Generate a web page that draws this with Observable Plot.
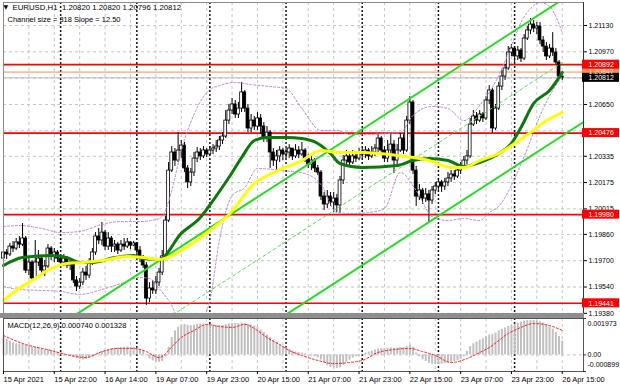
<!DOCTYPE html>
<html><head><meta charset="utf-8">
<script src="https://cdn.jsdelivr.net/npm/d3@7"></script>
<script src="https://cdn.jsdelivr.net/npm/@observablehq/plot@0.6"></script>
<style>
html,body{margin:0;padding:0;background:#fff;}
#wrap{position:relative;width:620px;height:388px;overflow:hidden;background:#fff;}
#main,#macd{position:absolute;left:0;}
#main{top:0;}
#macd{top:315px;}
#sep{position:absolute;left:0;top:313px;width:584px;height:5px;background:#8e8e8e;}
</style></head><body>
<div id="wrap"><div id="main"></div><div id="sep"></div><div id="macd"></div></div>
<script>
// ---------- DATA (EURUSD H1, bar index 0 = 15 Apr 2021 06:00) ----------
const firstOpen = 1.19713;
const close = [
1.19750,1.19738,1.19786,1.19774,1.19811,1.19798,1.19835,1.19640,1.19689,1.19592,
1.19689,1.19713,1.19640,1.19665,1.19774,1.19726,1.19750,1.19713,1.19689,1.19713,
1.19671,1.19689,1.19580,1.19543,1.19567,1.19628,1.19610,1.19689,1.19750,1.19847,
1.19823,1.19871,1.19786,1.19835,1.19786,1.19798,1.19762,1.19798,1.19786,1.19811,
1.19792,1.19805,1.19762,1.19713,1.19671,1.19470,1.19531,1.19519,1.19567,1.19628,
1.19726,1.19944,1.20248,1.20358,1.20309,1.20370,1.20400,1.20261,1.20176,1.20236,
1.20321,1.20358,1.20334,1.20370,1.20346,1.20370,1.20382,1.20394,1.20431,1.20455,
1.20552,1.20613,1.20650,1.20589,1.20625,1.20723,1.20625,1.20504,1.20552,1.20516,
1.20565,1.20516,1.20443,1.20479,1.20358,1.20309,1.20334,1.20370,1.20346,1.20358,
1.20382,1.20334,1.20370,1.20346,1.20370,1.20321,1.20285,1.20309,1.20261,1.20236,
1.20090,1.20042,1.20090,1.20054,1.20078,1.20036,1.20188,1.20309,1.20334,1.20297,
1.20334,1.20321,1.20358,1.20346,1.20370,1.20334,1.20358,1.20382,1.20443,1.20370,
1.20321,1.20370,1.20406,1.20309,1.20370,1.20443,1.20370,1.20552,1.20662,1.20248,
1.20090,1.20127,1.20078,1.20103,1.20066,1.20127,1.20151,1.20176,1.20151,1.20176,
1.20200,1.20224,1.20212,1.20248,1.20273,1.20309,1.20334,1.20528,1.20577,1.20552,
1.20589,1.20565,1.20674,1.20735,1.20504,1.20625,1.20759,1.20820,1.20869,1.20966,
1.20990,1.20942,1.20978,1.20929,1.21051,1.21100,1.21136,1.21112,1.21124,1.21039,
1.21002,1.20942,1.20990,1.20966,1.20905,1.20820,1.20812];
const high = [
1.19774,1.19768,1.19805,1.19817,1.19835,1.19847,1.19926,1.19847,1.19719,1.19701,
1.19823,1.19762,1.19732,1.19701,1.19798,1.19786,1.19774,1.19762,1.19732,1.19738,
1.19726,1.19713,1.19701,1.19604,1.19592,1.19653,1.19665,1.19713,1.19774,1.19871,
1.19896,1.19932,1.19884,1.19871,1.19847,1.19823,1.19811,1.19823,1.19835,1.19835,
1.19817,1.19817,1.19811,1.19786,1.19732,1.19689,1.19567,1.19580,1.19604,1.19653,
1.19762,1.19969,1.20297,1.20394,1.20382,1.20479,1.20431,1.20419,1.20279,1.20261,
1.20358,1.20388,1.20382,1.20394,1.20382,1.20394,1.20406,1.20431,1.20455,1.20479,
1.20613,1.20650,1.20686,1.20674,1.20662,1.20784,1.20735,1.20650,1.20589,1.20577,
1.20601,1.20589,1.20540,1.20516,1.20492,1.20382,1.20370,1.20394,1.20382,1.20382,
1.20406,1.20382,1.20406,1.20394,1.20419,1.20382,1.20346,1.20340,1.20321,1.20279,
1.20248,1.20115,1.20127,1.20115,1.20115,1.20103,1.20212,1.20340,1.20370,1.20358,
1.20370,1.20358,1.20382,1.20382,1.20394,1.20382,1.20394,1.20406,1.20467,1.20455,
1.20394,1.20431,1.20467,1.20431,1.20406,1.20479,1.20467,1.20577,1.20698,1.20674,
1.20273,1.20163,1.20139,1.20139,1.20127,1.20151,1.20176,1.20200,1.20188,1.20200,
1.20236,1.20248,1.20248,1.20273,1.20297,1.20334,1.20370,1.20565,1.20613,1.20601,
1.20613,1.20601,1.20698,1.20765,1.20747,1.20650,1.20784,1.20856,1.20893,1.21002,
1.21014,1.20990,1.21002,1.20990,1.21075,1.21124,1.21173,1.21160,1.21148,1.21148,
1.21063,1.21027,1.21014,1.21087,1.20990,1.20917,1.20820];
const low = [
1.19689,1.19707,1.19726,1.19750,1.19762,1.19774,1.19786,1.19622,1.19610,1.19567,
1.19580,1.19665,1.19616,1.19604,1.19653,1.19701,1.19689,1.19689,1.19665,1.19665,
1.19653,1.19640,1.19561,1.19513,1.19525,1.19549,1.19580,1.19592,1.19671,1.19732,
1.19798,1.19792,1.19762,1.19762,1.19750,1.19750,1.19738,1.19750,1.19762,1.19774,
1.19768,1.19786,1.19738,1.19689,1.19653,1.19428,1.19446,1.19495,1.19495,1.19543,
1.19610,1.19713,1.19932,1.20236,1.20273,1.20297,1.20321,1.20236,1.20139,1.20151,
1.20212,1.20297,1.20309,1.20321,1.20327,1.20340,1.20346,1.20358,1.20370,1.20406,
1.20443,1.20528,1.20589,1.20565,1.20565,1.20601,1.20601,1.20479,1.20479,1.20492,
1.20492,1.20467,1.20419,1.20419,1.20261,1.20273,1.20236,1.20297,1.20309,1.20321,
1.20321,1.20309,1.20321,1.20321,1.20334,1.20297,1.20261,1.20248,1.20236,1.20218,
1.20066,1.20005,1.20017,1.20030,1.19993,1.19993,1.19987,1.20163,1.20279,1.20273,
1.20285,1.20297,1.20309,1.20321,1.20321,1.20309,1.20321,1.20334,1.20358,1.20346,
1.20297,1.20297,1.20346,1.20230,1.20285,1.20358,1.20346,1.20358,1.20528,1.20224,
1.20030,1.20066,1.20042,1.20054,1.19932,1.20042,1.20103,1.20127,1.20115,1.20127,
1.20151,1.20176,1.20188,1.20200,1.20224,1.20261,1.20285,1.20321,1.20516,1.20528,
1.20540,1.20540,1.20552,1.20650,1.20473,1.20492,1.20613,1.20735,1.20796,1.20856,
1.20942,1.20905,1.20917,1.20905,1.20917,1.21039,1.21075,1.21087,1.21075,1.21014,
1.20966,1.20917,1.20929,1.20942,1.20893,1.20808,1.20796];

// moving averages (bar index, price)
const maFastBars = [0,6,15,20,24,28,35,41,44,49,56,62,66,71,75,79,83,89,94,99,103,106,113,124,129,134,140,145,149,156,160,163,167,172,176];
const maFast = [1.19671,1.19719,1.19732,1.19719,1.19689,1.19689,1.19719,1.19732,1.19713,1.19707,1.19866,1.19963,1.20066,1.20206,1.20327,1.20431,1.20449,1.20449,1.20443,1.20413,1.20352,1.20291,1.20267,1.20279,1.20309,1.20321,1.20309,1.20273,1.20291,1.20352,1.20413,1.20510,1.20656,1.20735,1.20844];
const maSlowBars = [0,4,9,15,20,25,31,39,44,49,57,65,71,79,85,94,100,106,113,124,134,141,145,150,156,161,166,171,176];
const maSlow = [1.19458,1.19519,1.19580,1.19653,1.19683,1.19689,1.19701,1.19726,1.19719,1.19707,1.19774,1.19884,1.19981,1.20169,1.20236,1.20309,1.20370,1.20358,1.20358,1.20340,1.20309,1.20267,1.20267,1.20309,1.20352,1.20413,1.20479,1.20552,1.20601];

// Bollinger envelope
const bbUpBars = [0,5,12,18,24,31,37,43,48,50,53,56,60,65,68,73,78,84,89,94,100,105,109,115,120,125,129,135,140,145,150,156,160,163,166,169,172,174,176];
const bbUp = [1.19908,1.19914,1.19896,1.19871,1.19878,1.19920,1.19938,1.19938,1.19950,1.19969,1.20127,1.20370,1.20589,1.20741,1.20765,1.20784,1.20771,1.20759,1.20747,1.20625,1.20492,1.20492,1.20467,1.20467,1.20473,1.20479,1.20583,1.20638,1.20625,1.20552,1.20644,1.20826,1.21008,1.21148,1.21233,1.21270,1.21246,1.21185,1.21087];
const bbLowBars = [0,5,12,18,24,31,37,43,46,49,53,56,60,65,68,72,76,80,88,95,100,105,110,115,120,125,130,135,140,145,150,153,156,160,165,170,173,176];
const bbLow = [1.19543,1.19525,1.19519,1.19513,1.19495,1.19525,1.19561,1.19598,1.19592,1.19531,1.19428,1.19306,1.19276,1.19458,1.19823,1.20096,1.20145,1.20261,1.20248,1.20230,1.20163,1.19993,1.19987,1.19993,1.20017,1.20236,1.20127,1.19969,1.19944,1.19957,1.19944,1.19993,1.20030,1.20157,1.20382,1.20625,1.20735,1.20820];

// equidistant channel (slope 12.5 points per bar)
const chanUpperBars = [20, 183], chanUpper = [1.19337, 1.21374];
const chanLowerBars = [80, 183], chanLower = [1.19260, 1.20547];
const chanMidBars = [50, 176], chanMid = [1.19329, 1.20904];

// horizontal levels
const redLevels = [1.20892, 1.20476, 1.19980, 1.19441];
const orangeLevel = [1.20847];
const bidLevel = [1.20812];

// axes
const priceGrid = [1.21130,1.20970,1.20810,1.20650,1.20490,1.20335,1.20175,1.20015,1.19860,1.19700,1.19540,1.19380];
const priceTickLabels = [1.21130,1.20970,1.20650,1.20335,1.20175,1.20015,1.19860,1.19700,1.19540,1.19380];
const labelBars = [0,16,32,48,64,80,96,112,128,144,160,176];
const xLabels = ["15 Apr 2021","15 Apr 22:00","16 Apr 14:00","19 Apr 07:00","19 Apr 23:00","20 Apr 15:00","21 Apr 07:00","21 Apr 23:00","22 Apr 15:00","23 Apr 07:00","23 Apr 23:00","26 Apr 15:00"];
const daySeparators = [18, 42, 65, 89, 113, 137, 161];

// MACD(12,26,9)
const macdMain = [
0.00094,0.00085,0.00075,0.00065,0.0006,0.00058,0.00062,0.00052,0.00048,0.00042,
0.0004,0.00036,0.0003,0.00026,0.00026,0.00022,0.00016,0.00012,0.0001,0.00006,
0.00002,-0.00004,-0.00012,-0.0002,-0.00026,-0.00028,-0.00024,-0.00018,-0.0001,0.00002,
0.0001,0.00018,0.00024,0.00028,0.00032,0.00036,0.00038,0.0004,0.00042,0.00042,
0.0004,0.0004,0.00036,0.0003,0.0002,-0.00005,-0.00022,-0.00032,-0.00038,-0.0004,
-0.00036,-0.0001,0.0004,0.00094,0.0013,0.0015,0.0016,0.00165,0.0016,0.00158,
0.00162,0.00166,0.00168,0.00168,0.00166,0.00164,0.00162,0.0016,0.0016,0.0016,
0.00164,0.00168,0.0017,0.0017,0.0017,0.00172,0.0017,0.00166,0.00162,0.00156,
0.00148,0.00136,0.00122,0.00108,0.00094,0.0008,0.00068,0.00056,0.00046,0.00038,
0.0003,0.00022,0.00016,0.00012,0.0001,0.00006,0.0,-0.00004,-0.0001,-0.00016,
-0.00028,-0.00046,-0.0006,-0.00068,-0.00072,-0.00074,-0.0007,-0.00056,-0.0004,-0.00028,
-0.00018,-0.0001,-0.00002,0.00004,0.0001,0.00016,0.0002,0.00026,0.00032,0.00034,
0.00034,0.00036,0.00038,0.00036,0.00036,0.0004,0.0004,0.00046,0.00052,0.00042,
0.0001,-0.0001,-0.00026,-0.00036,-0.00046,-0.0005,-0.00052,-0.00052,-0.0005,-0.00048,
-0.00044,-0.0004,-0.00036,-0.0003,-0.00024,-0.0001,0.0002,0.00045,0.0006,0.0007,
0.0008,0.00088,0.00098,0.00108,0.0011,0.00118,0.0013,0.00138,0.00146,0.00154,
0.0016,0.00166,0.00172,0.00178,0.00184,0.00186,0.00186,0.00186,0.00184,0.0018,
0.00174,0.00164,0.00152,0.0014,0.00122,0.001,0.00074];
const signalBars = [0,6,15,21,26,31,36,41,45,49,54,56,60,64,68,72,76,80,83,87,90,94,99,104,109,113,118,123,128,132,136,141,146,150,153,159,163,167,172,176];
const signalVals = [0.00105,0.00062,0.00024,-0.00003,-0.00014,0.00018,0.00035,0.00035,0.00018,-0.00014,0.00062,0.00094,0.00132,0.00165,0.00154,0.00149,0.00165,0.00132,0.00094,0.00056,0.00024,-0.00003,-0.0003,-0.00047,-0.00041,-0.0003,0.00013,0.00029,0.00035,0.00018,-0.00003,-0.00041,-0.0002,0.00013,0.0004,0.00116,0.00149,0.0017,0.00159,0.001328];
const macdScale = [0.001973, 0, -0.000899];

// ---------- TABLES ----------
const xMax = 182.7;
const priceDomain = [1.19379, 1.21270];
const candles = close.map((c, i) => ({i, open: i ? close[i - 1] : firstOpen, high: high[i], low: low[i], close: c}));
const pts = (bars, vals) => bars.map((b, k) => ({i: b, p: vals[k]}));
const gridBars = d3.range(8, 183, 8);
const levelBoxes = [
  ...orangeLevel.map(p => ({p, fill: "#ff8a50", text: "#ffe6d8"})),
  ...redLevels.map(p => ({p, fill: "#ff0000", text: "#ffffff"})),
  ...bidLevel.map(p => ({p, fill: "#000000", text: "#ffffff"}))
];

const font = "'Liberation Sans', Arial, Helvetica, sans-serif";
const style = {fontFamily: font, fontSize: "7.5px", background: "transparent", color: "#000", overflow: "visible"};
const gridStyle = {stroke: "#c4c4c4", strokeDasharray: "3,3", strokeWidth: 1};
const sepStyle = {stroke: "#151515", strokeWidth: 1.5, strokeDasharray: "2,2"};
const bodyX = {x1: d => d.i - 0.45, x2: d => d.i + 0.45, y1: "open", y2: "close"};

const main = Plot.plot({
  width: 620, height: 315,
  marginTop: 2, marginBottom: 2, marginLeft: 3, marginRight: 37,
  style,
  x: {domain: [0, xMax], axis: null},
  y: {domain: priceDomain},
  marks: [
    Plot.ruleX(gridBars, gridStyle),
    Plot.ruleY(priceGrid, gridStyle),
    Plot.ruleX(daySeparators, sepStyle),
    Plot.ruleY(bidLevel, {stroke: "#b8b8b8", strokeWidth: 1}),
    Plot.ruleY(orangeLevel, {stroke: "#ff8a50", strokeWidth: 1}),
    Plot.ruleY(redLevels, {stroke: "#ff0000", strokeWidth: 1.6}),
    Plot.ruleX(candles, {x: "i", y1: "low", y2: "high", stroke: "#000", strokeWidth: 1}),
    Plot.rect(candles.filter(d => d.close >= d.open), {...bodyX, fill: "#ffffff", stroke: "#000", strokeWidth: 0.8}),
    Plot.rect(candles.filter(d => d.close < d.open), {...bodyX, fill: "#000000", stroke: "#000", strokeWidth: 0.8}),
    Plot.line(pts(bbUpBars, bbUp), {x: "i", y: "p", stroke: "#b486dc", strokeWidth: 1, strokeDasharray: "2,2", curve: "monotone-x", clip: true}),
    Plot.line(pts(bbLowBars, bbLow), {x: "i", y: "p", stroke: "#b486dc", strokeWidth: 1, strokeDasharray: "2,2", curve: "monotone-x", clip: true}),
    Plot.line(pts(chanMidBars, chanMid), {x: "i", y: "p", stroke: "#55dd55", strokeWidth: 1, strokeDasharray: "3,3", clip: true}),
    Plot.line(pts(chanUpperBars, chanUpper), {x: "i", y: "p", stroke: "#22dd22", strokeWidth: 2, clip: true}),
    Plot.line(pts(chanLowerBars, chanLower), {x: "i", y: "p", stroke: "#22dd22", strokeWidth: 2, clip: true}),
    Plot.line(pts(maFastBars, maFast), {x: "i", y: "p", stroke: "#0b7a0b", strokeWidth: 3, curve: "monotone-x"}),
    Plot.line(pts(maSlowBars, maSlow), {x: "i", y: "p", stroke: "#ffff00", strokeWidth: 3, curve: "monotone-x"}),
    Plot.frame({stroke: "#8a8a8a"}),
    Plot.ruleX([xMax], {stroke: "#333"}),
    Plot.axisY(priceGrid, {anchor: "right", tickFormat: () => "", tickSize: 3, tickPadding: 2, fontSize: 7, label: null}),
    Plot.axisY(priceTickLabels, {anchor: "right", tickFormat: d => d.toFixed(5), tickSize: 0, tickPadding: 5, fontSize: 7, label: null}),
    Plot.rect(levelBoxes, {x1: xMax, x2: xMax, y1: "p", y2: "p", insetLeft: -1, insetRight: -36, insetTop: -4.5, insetBottom: -4.5, fill: d => d.fill}),
    Plot.text(levelBoxes, {x: xMax, y: "p", text: d => d.p.toFixed(5), dx: 5, textAnchor: "start", fill: d => d.text, fontSize: 7}),
    Plot.text(["\u25BC"], {frameAnchor: "top-left", dx: 0, dy: 2, lineAnchor: "top", textAnchor: "start", fontSize: 6, fontFamily: "DejaVu Sans"}),
    Plot.text(["EURUSD,H1  1.20820 1.20820 1.20796 1.20812"], {frameAnchor: "top-left", dx: 9, dy: 2, lineAnchor: "top", textAnchor: "start", fontSize: 7.8}),
    Plot.text(["Channel size = 318 Slope = 12.50"], {frameAnchor: "top-left", dx: 4, dy: 14, lineAnchor: "top", textAnchor: "start", fontSize: 7.5})
  ]
});
document.getElementById("main").append(main);

const sig = pts(signalBars, signalVals);
const macd = Plot.plot({
  width: 620, height: 73,
  marginTop: 3, marginBottom: 17, marginLeft: 3, marginRight: 37,
  style,
  x: {type: "linear", domain: [0, xMax]},
  y: {type: "linear", domain: [macdScale[2], macdScale[0]], axis: null},
  marks: [
    Plot.ruleX(gridBars, gridStyle),
    Plot.ruleY([0], gridStyle),
    Plot.ruleX(daySeparators, sepStyle),
    Plot.ruleX(macdMain.map((v, i) => ({i, v})), {x: "i", y1: 0, y2: "v", stroke: "#c0c0c0", strokeWidth: 2}),
    Plot.line(sig, {x: "i", y: "p", stroke: "#ff2020", strokeWidth: 1, strokeDasharray: "2,2", curve: "monotone-x"}),
    Plot.frame({stroke: "#555"}),
    Plot.axisX(labelBars, {tickFormat: d => xLabels[labelBars.indexOf(d)], textAnchor: "start", tickSize: 3, tickPadding: 2, fontSize: 7.5, label: null}),
    Plot.text(["MACD(12,26,9) 0.000740 0.001328"], {frameAnchor: "top-left", dx: 4, dy: 4, lineAnchor: "top", textAnchor: "start", fontSize: 7.5}),
    Plot.ruleY(macdScale, {x1: xMax, x2: xMax, insetRight: -3, stroke: "#333"}),
    Plot.text([macdScale[0]], {x: xMax, y: d => d, text: d => d.toFixed(6), dx: 4, dy: 5, textAnchor: "start", fontSize: 7}),
    Plot.text([macdScale[1]], {x: xMax, y: d => d, text: () => "0.00", dx: 4, textAnchor: "start", fontSize: 7}),
    Plot.text([macdScale[2]], {x: xMax, y: d => d, text: d => d.toFixed(6), dx: 4, dy: -7, textAnchor: "start", fontSize: 7})
  ]
});
document.getElementById("macd").append(macd);
</script>
</body></html>
